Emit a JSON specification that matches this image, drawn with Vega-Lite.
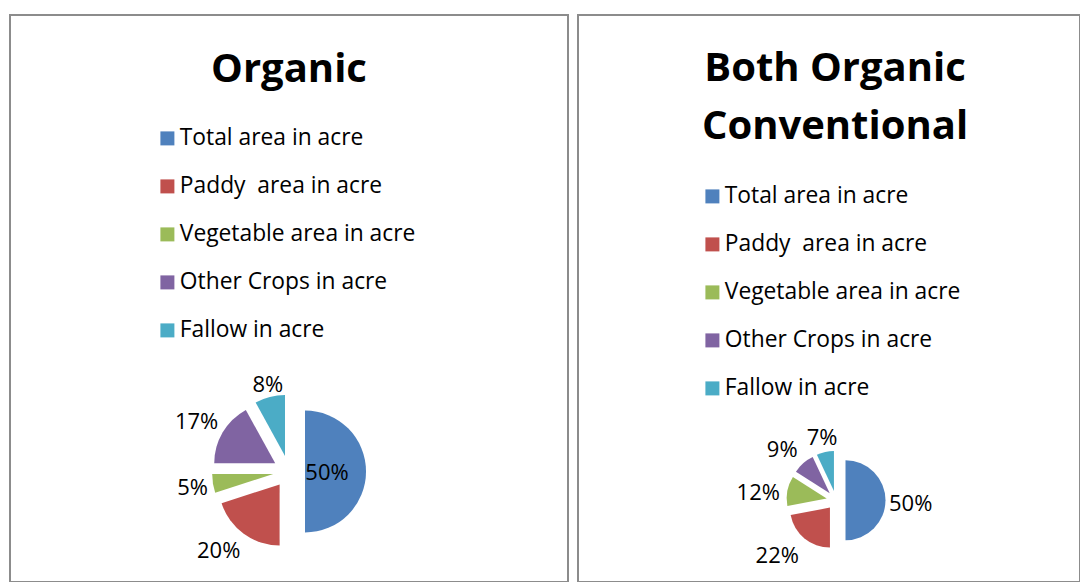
{
  "$schema": "https://vega.github.io/schema/vega-lite/v6.json",
  "padding": {"left": 9, "top": 14, "right": 0, "bottom": 0},
  "autosize": {"type": "pad"},
  "background": "white",
  "datasets": {
    "organic": [
      {"category": "Total area in acre", "order": 1, "share": 0.50},
      {"category": "Paddy\u00a0 area in acre", "order": 2, "share": 0.20},
      {"category": "Vegetable area in acre", "order": 3, "share": 0.05},
      {"category": "Other Crops in acre", "order": 4, "share": 0.17},
      {"category": "Fallow in acre", "order": 5, "share": 0.08}
    ],
    "both": [
      {"category": "Total area in acre", "order": 1, "share": 0.50},
      {"category": "Paddy\u00a0 area in acre", "order": 2, "share": 0.22},
      {"category": "Vegetable area in acre", "order": 3, "share": 0.12},
      {"category": "Other Crops in acre", "order": 4, "share": 0.09},
      {"category": "Fallow in acre", "order": 5, "share": 0.07}
    ]
  },
  "config": {
    "view": {"stroke": "#8c8c8c", "strokeWidth": 2},
    "font": "Open Sans",
    "title": {"font": "Open Sans", "fontSize": 40, "fontWeight": "bold", "color": "black", "anchor": "middle", "frame": "group"},
    "legend": {
      "title": null,
      "padding": 0,
      "symbolType": "square",
      "symbolSize": 196,
      "symbolStrokeWidth": 0,
      "labelFont": "Open Sans",
      "labelFontSize": 22.8,
      "labelColor": "black",
      "labelOffset": 1,
      "rowPadding": 24,
      "labelLimit": 400
    }
  },
  "spacing": 8,
  "resolve": {"legend": {"color": "independent"}},
  "hconcat": [
    {
      "width": 558,
      "height": 567,
      "view": {"stroke": "#8c8c8c", "strokeWidth": 2},
      "title": {"text": "Organic", "offset": -75},
      "data": {"name": "organic"},
      "encoding": {
        "theta": {"field": "share", "type": "quantitative", "stack": true},
        "order": {"field": "order", "type": "quantitative"},
        "color": {
          "field": "category",
          "type": "nominal",
          "sort": null,
          "scale": {
            "domain": ["Total area in acre", "Paddy\u00a0 area in acre", "Vegetable area in acre", "Other Crops in acre", "Fallow in acre"],
            "range": ["#4F81BD", "#C0504D", "#9BBB59", "#8064A2", "#4BACC6"]
          },
          "legend": {"orient": "none", "legendX": 146, "legendY": 112}
        }
      },
      "layer": [
        {
          "mark": {
            "type": "arc", "outerRadius": 61, "x": 279, "y": 456.5,
            "xOffset": {"expr": "16*sin(PI*(datum.share_start+datum.share_end))"},
            "yOffset": {"expr": "-16*cos(PI*(datum.share_start+datum.share_end))"}
          }
        },
        {
          "mark": {
            "type": "text", "fontSize": 22, "font": "Open Sans", "x": 278, "y": 460.5, "radius": 81,
            "align": {"expr": "sin(PI*(datum.share_start+datum.share_end)) > 0.35 ? 'left' : (sin(PI*(datum.share_start+datum.share_end)) < -0.35 ? 'right' : 'center')"},
            "baseline": {"expr": "-cos(PI*(datum.share_start+datum.share_end)) > 0.35 ? 'top' : (-cos(PI*(datum.share_start+datum.share_end)) < -0.35 ? 'bottom' : 'middle')"}
          },
          "encoding": {
            "text": {"field": "share", "type": "quantitative", "format": ".0%"},
            "color": {"value": "black"},
            "opacity": {"condition": {"test": "datum.order === 1", "value": 0}, "value": 1}
          }
        },
        {
          "mark": {"type": "text", "fontSize": 22, "font": "Open Sans", "x": 278, "y": 458, "radius": 39},
          "encoding": {
            "text": {"field": "share", "type": "quantitative", "format": ".0%"},
            "color": {"value": "black"},
            "opacity": {"condition": {"test": "datum.order === 1", "value": 1}, "value": 0}
          }
        }
      ]
    },
    {
      "width": 502,
      "height": 567,
      "view": {"stroke": "#8c8c8c", "strokeWidth": 2},
      "title": {"text": ["Both Organic", "Conventional"], "offset": -132, "lineHeight": 58, "dx": 6},
      "data": {"name": "both"},
      "encoding": {
        "theta": {"field": "share", "type": "quantitative", "stack": true},
        "order": {"field": "order", "type": "quantitative"},
        "color": {
          "field": "category",
          "type": "nominal",
          "sort": null,
          "scale": {
            "domain": ["Total area in acre", "Paddy\u00a0 area in acre", "Vegetable area in acre", "Other Crops in acre", "Fallow in acre"],
            "range": ["#4F81BD", "#C0504D", "#9BBB59", "#8064A2", "#4BACC6"]
          },
          "legend": {"orient": "none", "legendX": 123, "legendY": 170}
        }
      },
      "layer": [
        {
          "mark": {
            "type": "arc", "outerRadius": 40, "x": 258, "y": 485.3,
            "xOffset": {"expr": "9.5*sin(PI*(datum.share_start+datum.share_end))"},
            "yOffset": {"expr": "-9.5*cos(PI*(datum.share_start+datum.share_end))"}
          }
        },
        {
          "mark": {
            "type": "text", "fontSize": 22, "font": "Open Sans", "x": 256, "y": 488.5, "radius": 55,
            "align": {"expr": "sin(PI*(datum.share_start+datum.share_end)) > 0.35 ? 'left' : (sin(PI*(datum.share_start+datum.share_end)) < -0.35 ? 'right' : 'center')"},
            "baseline": {"expr": "-cos(PI*(datum.share_start+datum.share_end)) > 0.35 ? 'top' : (-cos(PI*(datum.share_start+datum.share_end)) < -0.35 ? 'bottom' : 'middle')"}
          },
          "encoding": {
            "text": {"field": "share", "type": "quantitative", "format": ".0%"},
            "color": {"value": "black"}
          }
        }
      ]
    }
  ]
}
